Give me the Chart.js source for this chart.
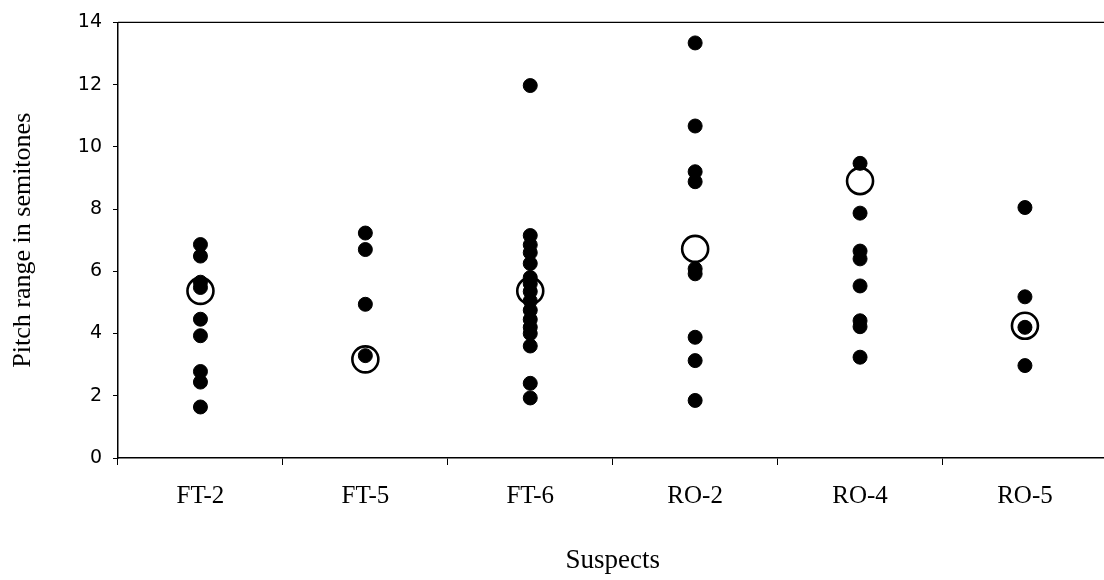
<!DOCTYPE html>
<html>
<head>
<meta charset="utf-8">
<script src="https://cdn.jsdelivr.net/npm/chart.js@4/dist/chart.umd.min.js"></script>
<style>
html,body{margin:0;padding:0;background:#fff;overflow:hidden;width:1104px;height:580px}
#c{display:block}
</style>
</head>
<body>
<canvas id="c" width="1123" height="580"></canvas>
<script>
// ---- data ----
const categories = ['FT-2', 'FT-5', 'FT-6', 'RO-2', 'RO-4', 'RO-5'];
const ft2 = [6.86, 6.49, 5.65, 5.48, 4.46, 3.93, 2.78, 2.44, 1.64];
const ft5 = [7.23, 6.70, 4.94, 3.29];
const ft6 = [11.97, 7.15, 6.85, 6.6, 6.25, 5.8, 5.6, 5.35, 5.05, 4.75, 4.45, 4.2, 4.0, 3.6, 2.4, 1.93];
const ro2 = [13.34, 10.67, 9.2, 8.88, 6.08, 5.92, 3.88, 3.13, 1.85];
const ro4 = [9.47, 7.87, 6.65, 6.4, 5.53, 4.41, 4.22, 3.24];
const ro5 = [8.05, 5.18, 4.2, 2.97];
const circles = [5.37, 3.17, 5.37, 6.72, 8.9, 4.25];
const yTicks = [0, 2, 4, 6, 8, 10, 12, 14];
const yTitle = 'Pitch range in semitones';
const xTitle = 'Suspects';

const groups = [ft2, ft5, ft6, ro2, ro4, ro5];
const dotData = [];
groups.forEach((arr, i) => arr.forEach(v => dotData.push({x: categories[i], y: v})));
const circleData = circles.map((v, i) => ({x: categories[i], y: v}));

const topBorder = {
  id: 'topBorder',
  beforeDatasetsDraw(chart) {
    const {ctx, chartArea} = chart;
    ctx.save();
    ctx.strokeStyle = '#000';
    ctx.lineWidth = 1.3;
    ctx.beginPath();
    ctx.moveTo(chartArea.left, chartArea.top);
    ctx.lineTo(chartArea.right, chartArea.top);
    ctx.stroke();
    ctx.restore();
  }
};

new Chart(document.getElementById('c'), {
  type: 'scatter',
  data: {
    labels: categories,
    datasets: [
      {
        label: 'points',
        data: dotData,
        backgroundColor: '#000',
        borderColor: '#000',
        borderWidth: 1,
        pointRadius: 7,
        pointHoverRadius: 7,
        order: 1
      },
      {
        label: 'reference',
        data: circleData,
        backgroundColor: '#fff',
        borderColor: '#000',
        borderWidth: 2.6,
        pointRadius: 13,
        pointHoverRadius: 13,
        order: 2
      }
    ]
  },
  options: {
    responsive: false,
    animation: false,
    layout: {padding: {top: 20, right: 0, bottom: 0, left: 0}},
    plugins: {legend: {display: false}, tooltip: {enabled: false}},
    scales: {
      x: {
        type: 'category',
        labels: categories,
        offset: true,
        afterFit(s) { s.height = 122; },
        grid: {offset: true, drawOnChartArea: false, drawTicks: true, tickLength: 7, color: '#000', lineWidth: 1},
        border: {display: true, color: '#000', width: 1.5},
        ticks: {color: '#000', padding: 16, font: {family: '"Liberation Serif", serif', size: 25}},
        title: {display: true, text: xTitle, color: '#000', padding: {top: 0, bottom: 3}, font: {family: '"Liberation Serif", serif', size: 27}}
      },
      y: {
        type: 'linear',
        min: 0,
        max: 14,
        afterFit(s) { s.width = 118; },
        afterBuildTicks(s) { s.ticks = yTicks.map(v => ({value: v})); },
        grid: {drawOnChartArea: false, drawTicks: true, tickLength: 5, color: '#000', lineWidth: 1},
        border: {display: true, color: '#000', width: 1.5},
        ticks: {color: '#000', padding: 11, font: {family: '"DejaVu Sans", sans-serif', size: 19}},
        title: {display: true, text: yTitle, color: '#000', padding: {top: 8, bottom: 0}, font: {family: '"Liberation Serif", serif', size: 26}}
      }
    }
  },
  plugins: [topBorder]
});
</script>
</body>
</html>
